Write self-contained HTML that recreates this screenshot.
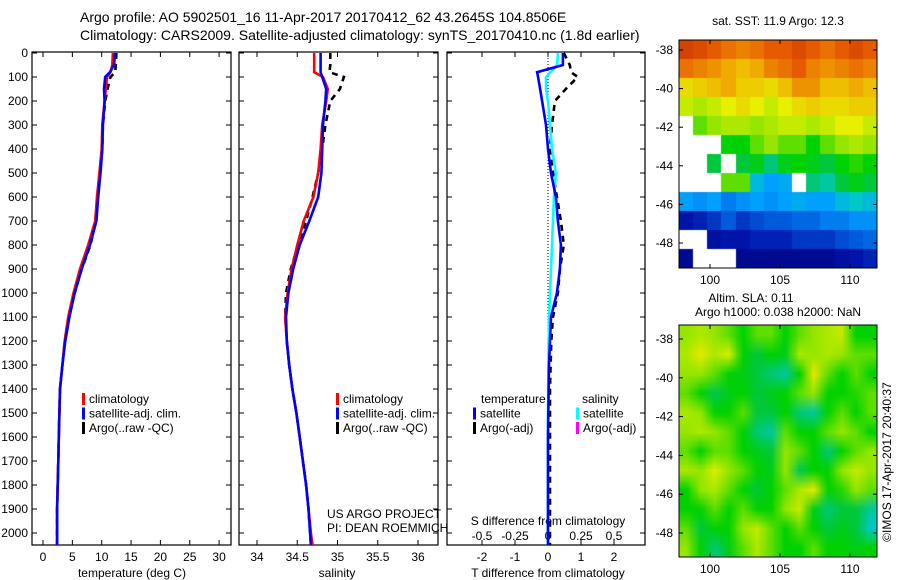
<!DOCTYPE html>
<html><head><meta charset="utf-8">
<style>
html,body{margin:0;padding:0;background:#fff;}
#root{position:relative;width:900px;height:580px;overflow:hidden;font-family:"Liberation Sans",sans-serif;}
svg text{font-family:"Liberation Sans",sans-serif;fill:#000;}
canvas{position:absolute;}
</style></head>
<body>
<div id="root">
<canvas id="sst" width="198" height="228" style="left:679px;top:40px;width:198px;height:228px"></canvas>
<canvas id="sla" width="198" height="232" style="left:679px;top:325px;width:198px;height:232px"></canvas>
<svg id="svg" width="900" height="580" style="position:absolute;left:0;top:0"></svg>
</div>
<script>
// ---- data ----
const depths = [0,50,80,100,150,200,300,400,500,600,700,800,900,1000,1100,1200,1300,1400,1500,1600,1700,1800,1900,2000,2050];
const tempClim = [11.9,11.8,11.5,10.9,10.7,10.5,10.1,10.0,9.6,9.2,8.9,7.7,6.3,5.2,4.3,3.7,3.3,2.9,2.8,2.7,2.6,2.5,2.4,2.4,2.4];
const tempSat  = [12.3,12.1,11.4,10.6,10.4,10.5,10.2,10.1,9.8,9.4,9.1,8.0,6.6,5.4,4.5,3.8,3.3,2.9,2.8,2.7,2.6,2.5,2.4,2.4,2.4];
const tempArgo = [12.5,12.4,12.3,11.5,11.0,10.6,10.2,10.1,9.7,9.3,9.0,8.1,6.6,5.4,4.4,3.7,3.3,2.9,2.8,2.7,2.6,2.5,2.4,2.4,2.4];
const salClim  = [34.71,34.71,34.71,34.82,34.88,34.86,34.81,34.79,34.76,34.70,34.58,34.50,34.43,34.38,34.35,34.37,34.40,34.44,34.49,34.53,34.57,34.61,34.64,34.67,34.69];
const salSat   = [34.79,34.79,34.79,34.81,34.86,34.85,34.82,34.81,34.80,34.76,34.65,34.53,34.45,34.39,34.36,34.37,34.40,34.44,34.49,34.53,34.57,34.61,34.64,34.66,34.67];
const salArgo  = [34.91,34.91,34.90,35.08,35.03,34.91,34.85,34.81,34.76,34.69,34.61,34.51,34.42,34.36,34.35,34.37,34.40,34.44,34.49,34.53,34.57,34.61,34.64,34.66,34.67];
const tDiffSat  = [0.45,0.45,-0.33,-0.30,-0.24,-0.18,-0.06,0.0,0.09,0.24,0.30,0.39,0.36,0.27,0.09,0.06,0.03,0.02,0.01,0.0,0.0,0.0,0.0,0.0,0.0];
const sDiffSat  = [0.075,0.070,0.02,-0.015,-0.015,0.0,0.015,0.03,0.06,0.045,0.038,0.03,0.023,0.015,0.008,0.005,0.003,0.002,0.0,0.0,0.0,0.0,0.0,0.0,0.0];
const tDiffArgo = [0.48,0.66,0.70,0.90,0.54,0.21,0.12,0.06,0.15,0.27,0.39,0.48,0.36,0.30,0.15,0.10,0.08,0.06,0.06,0.06,0.06,0.06,0.06,0.06,0.06];
const depthTicks = [0,100,200,300,400,500,600,700,800,900,1000,1100,1200,1300,1400,1500,1600,1700,1800,1900,2000];
const tempTicks = [0,5,10,15,20,25,30];
const salTicks = [34,34.5,35,35.5,36];
const tdTicks = [-2,-1,0,1,2];
const sdTicks = [-0.5,-0.25,0,0.25,0.5];
const latTicks = [-38,-40,-42,-44,-46,-48];
const lonTicks = [100,105,110];
const sstGrid = [
[0.9,0.88,0.85,0.82,0.8,0.82,0.85,0.85,0.88,0.85,0.82,0.85,0.88,0.85],
[0.82,0.8,0.78,0.75,0.72,0.75,0.8,0.82,0.85,0.8,0.78,0.8,0.82,0.8],
[0.68,0.7,0.72,0.75,0.7,0.7,0.68,0.72,0.78,0.78,0.72,0.72,0.75,0.72],
[0.62,0.6,0.62,0.65,0.68,0.65,0.62,0.65,0.68,0.7,0.68,0.68,0.7,0.7],
[null,0.55,0.58,0.6,0.6,0.58,0.6,0.62,0.62,0.6,0.62,0.65,0.65,0.62],
[null,null,null,0.5,0.5,0.55,0.58,0.55,0.55,0.5,0.55,0.58,0.6,0.58],
[null,null,0.45,null,0.45,0.48,0.42,0.48,0.5,0.48,0.45,0.5,0.52,0.5],
[null,null,null,0.55,0.55,0.35,0.3,0.32,null,0.42,0.4,0.45,0.48,0.45],
[0.3,0.28,0.3,0.25,0.28,0.3,0.28,0.3,0.32,0.3,0.3,0.35,0.38,0.35],
[0.1,0.12,0.15,0.2,0.15,0.18,0.2,0.2,0.22,0.22,0.25,0.25,0.28,0.28],
[null,null,0.08,0.1,0.1,0.12,0.12,0.12,0.15,0.15,0.15,0.18,0.2,0.22],
[0.05,null,null,null,0.05,0.05,0.05,0.05,0.05,0.05,0.05,0.08,0.1,0.12]];
const slaGrid = [
[0.58,0.6,0.58,0.55,0.5,0.55,0.55,0.5,0.55,0.58,0.6,0.62,0.5,0.5],
[0.6,0.66,0.6,0.64,0.5,0.45,0.5,0.48,0.6,0.58,0.6,0.58,0.55,0.55],
[0.58,0.58,0.55,0.5,0.48,0.45,0.42,0.4,0.5,0.66,0.55,0.5,0.55,0.5],
[0.55,0.5,0.44,0.48,0.5,0.45,0.48,0.5,0.55,0.58,0.5,0.5,0.52,0.55],
[0.6,0.58,0.5,0.5,0.55,0.45,0.45,0.5,0.42,0.4,0.5,0.55,0.5,0.55],
[0.58,0.6,0.58,0.55,0.5,0.42,0.4,0.55,0.5,0.5,0.55,0.58,0.55,0.5],
[0.55,0.5,0.55,0.55,0.5,0.48,0.45,0.58,0.55,0.5,0.42,0.5,0.55,0.58],
[0.6,0.58,0.64,0.58,0.55,0.5,0.48,0.58,0.44,0.5,0.5,0.58,0.62,0.58],
[0.5,0.58,0.6,0.55,0.5,0.45,0.5,0.55,0.6,0.66,0.5,0.52,0.58,0.55],
[0.5,0.5,0.55,0.5,0.55,0.5,0.5,0.58,0.62,0.48,0.42,0.45,0.45,0.4],
[0.55,0.45,0.5,0.5,0.58,0.62,0.55,0.5,0.55,0.5,0.45,0.48,0.45,0.38],
[0.58,0.5,0.42,0.48,0.55,0.6,0.55,0.5,0.5,0.55,0.5,0.5,0.48,0.5]];

// ---- axes ----
const yD = d => 53 + d*0.24;
const xT = t => 43 + t*5.87;
const xS = s => 257 + (s-34)*80.5;
const xTD = v => 548 + v*33;
const xSD = v => 548 + v*132;
const lonX = l => 710 + (l-100)*14;
const lat1 = a => 50 + (-38 - a)*19.3;
const lat2 = a => 339 + (-38 - a)*19.4;

const NS='http://www.w3.org/2000/svg';
const svg=document.getElementById('svg');
function mk(tag,attrs,parent){const e=document.createElementNS(NS,tag);for(const k in attrs)e.setAttribute(k,attrs[k]);(parent||svg).appendChild(e);return e;}
function txt(s,x,y,opts,name){const e=mk('text',Object.assign({x:x,y:y,'font-size':12},opts||{}));e.textContent=s;

return e;}

txt('Argo profile: AO 5902501_16 11-Apr-2017 20170412_62 43.2645S 104.8506E',80,22,{'font-size':14},'title-line-1');
txt('Climatology: CARS2009. Satellite-adjusted climatology: synTS_20170410.nc (1.8d earlier)',80,40,{'font-size':14},'title-line-2');

const panels=[{x0:32,x1:231,name:'temperature-panel'},{x0:239,x1:438,name:'salinity-panel'},{x0:447,x1:645,name:'difference-panel'}];
const Y0=52,Y1=545;
panels.forEach(p=>{
  const r=mk('rect',{x:p.x0,y:Y0,width:p.x1-p.x0,height:Y1-Y0,fill:'none',stroke:'#000','stroke-width':1.2});
  
  
  depthTicks.forEach(d=>{const y=yD(d);
    mk('line',{x1:p.x0,x2:p.x0+5,y1:y,y2:y,stroke:'#000'});
    mk('line',{x1:p.x1-5,x2:p.x1,y1:y,y2:y,stroke:'#000'});});
});
depthTicks.forEach(d=>txt(String(d),28,yD(d)+4,{'text-anchor':'end'},'depth-tick-label'));
function xticks(arr,f,p,fmt){arr.forEach(v=>{const x=f(v);
  mk('line',{x1:x,x2:x,y1:Y0,y2:Y0+5,stroke:'#000'});mk('line',{x1:x,x2:x,y1:Y1-5,y2:Y1,stroke:'#000'});
  txt(fmt?fmt(v):String(v),x,561,{'text-anchor':'middle'},'x-tick-label');});}
xticks(tempTicks,xT,panels[0]);
xticks(salTicks,xS,panels[1]);
xticks(tdTicks,xTD,panels[2]);
sdTicks.forEach(v=>txt(String(v),xSD(v),540,{'text-anchor':'middle'},'s-diff-tick-label'));
txt('temperature (deg C)',132,577,{'text-anchor':'middle'},'temperature-axis-title');
txt('salinity',337,577,{'text-anchor':'middle'},'salinity-axis-title');
txt('T difference from climatology',548,577,{'text-anchor':'middle'},'t-diff-axis-title');
txt('S difference from climatology',548,525,{'text-anchor':'middle'},'s-diff-axis-title');
txt('US ARGO PROJECT',327,518,{},'project-label');
txt('PI: DEAN ROEMMICH',327,532,{},'pi-label');
mk('line',{x1:xTD(0),x2:xTD(0),y1:Y0,y2:Y1,stroke:'#000','stroke-dasharray':'1,2'});

function line(vals,fx,color,dash,name){
  const pts=depths.map((d,i)=>fx(vals[i]).toFixed(1)+','+yD(d).toFixed(1)).join(' ');
  const e=mk('polyline',{points:pts,fill:'none',stroke:color,'stroke-width':2.6,'stroke-dasharray':dash||'none'});
  
  
}
line(tempArgo,xT,'#000','6,5','temp-argo-line');
line(tempClim,xT,'#f00',null,'temp-climatology-line');
line(tempSat,xT,'#00f',null,'temp-satellite-line');
line(salArgo,xS,'#000','6,5','sal-argo-line');
line(salClim,xS,'#f00',null,'sal-climatology-line');
line(salSat,xS,'#00f',null,'sal-satellite-line');
line(tDiffArgo,xTD,'#000','6,5','tdiff-argo-line');
line(sDiffSat,xSD,'#0ff',null,'sdiff-satellite-line');
line(tDiffSat,xTD,'#00f',null,'tdiff-satellite-line');

function legend(x,y,color,label){mk('rect',{x:x,y:y-10,width:3,height:12,fill:color});txt(label,x+7,y,{},'legend-entry');}
[[82,'#f00','climatology'],[82,'#00f','satellite-adj. clim.'],[82,'#000','Argo(..raw -QC)']].forEach((l,i)=>legend(l[0],403+i*14.5,l[1],l[2]));
[[336,'#f00','climatology'],[336,'#00f','satellite-adj. clim.'],[336,'#000','Argo(..raw -QC)']].forEach((l,i)=>legend(l[0],403+i*14.5,l[1],l[2]));
txt('temperature',481,403,{},'legend-heading-temperature');
txt('salinity',582,403,{},'legend-heading-salinity');
legend(473,417.5,'#00f','satellite');legend(473,432,'#000','Argo(-adj)');
legend(576,417.5,'#0ff','satellite');legend(576,432,'#f0f','Argo(-adj)');

// ---- maps ----
const cmapStops=[[0,0,0,120],[0.1,0,20,170],[0.2,0,90,220],[0.3,0,160,255],[0.38,0,200,200],[0.45,0,200,60],[0.5,0,210,0],[0.58,150,230,0],[0.65,230,240,0],[0.75,240,170,0],[0.85,230,90,0],[1,180,20,0]];
function cmap(v){for(let i=1;i<cmapStops.length;i++){const a=cmapStops[i-1],b=cmapStops[i];if(v<=b[0]){const t=(v-a[0])/(b[0]-a[0]);return [a[1]+t*(b[1]-a[1]),a[2]+t*(b[2]-a[2]),a[3]+t*(b[3]-a[3])];}}const l=cmapStops[cmapStops.length-1];return [l[1],l[2],l[3]];}
function drawMap(id,grid,smooth,W,H){
  const c=document.getElementById(id),ctx=c.getContext('2d');
  const rows=grid.length,cols=grid[0].length;
  const sm=document.createElement('canvas');sm.width=cols;sm.height=rows;
  const sctx=sm.getContext('2d');const im=sctx.createImageData(cols,rows);
  grid.forEach((row,i)=>row.forEach((v,j)=>{const k=(i*cols+j)*4;
    if(v===null){im.data[k]=255;im.data[k+1]=255;im.data[k+2]=255;}else{const c3=cmap(v);im.data[k]=c3[0];im.data[k+1]=c3[1];im.data[k+2]=c3[2];}
    im.data[k+3]=255;}));
  sctx.putImageData(im,0,0);
  ctx.imageSmoothingEnabled=smooth;ctx.drawImage(sm,0,0,W,H);
}
drawMap('sst',sstGrid,false,198,228);
drawMap('sla',slaGrid,true,198,232);

function mapAxes(top,bot,latF,name){
  const r=mk('rect',{x:679,y:top,width:198,height:bot-top,fill:'none',stroke:'#000','stroke-width':1});
  
  
  latTicks.forEach(a=>{const y=latF(a);mk('line',{x1:679,x2:683,y1:y,y2:y,stroke:'#000'});mk('line',{x1:873,x2:877,y1:y,y2:y,stroke:'#000'});
    txt(String(a),673,y+4,{'text-anchor':'end'},'lat-tick-label');});
  lonTicks.forEach(l=>{const x=lonX(l);mk('line',{x1:x,x2:x,y1:top,y2:top+4,stroke:'#000'});mk('line',{x1:x,x2:x,y1:bot-4,y2:bot,stroke:'#000'});
    txt(String(l),x,bot+16,{'text-anchor':'middle'},'lon-tick-label');});
}
mapAxes(40,268,lat1,'sst-map');
mapAxes(325,557,lat2,'sla-map');
txt('sat. SST: 11.9 Argo: 12.3',778,25,{'text-anchor':'middle'},'sst-map-title');
txt('Altim. SLA: 0.11',751,302,{'text-anchor':'middle'},'sla-value-label');
txt('Argo h1000: 0.038 h2000: NaN',778,316,{'text-anchor':'middle'},'argo-height-label');
txt('©IMOS 17-Apr-2017 20:40:37',891,462,{'text-anchor':'middle',transform:'rotate(-90 891 462)'},'imos-credit');
</script>
</body></html>
